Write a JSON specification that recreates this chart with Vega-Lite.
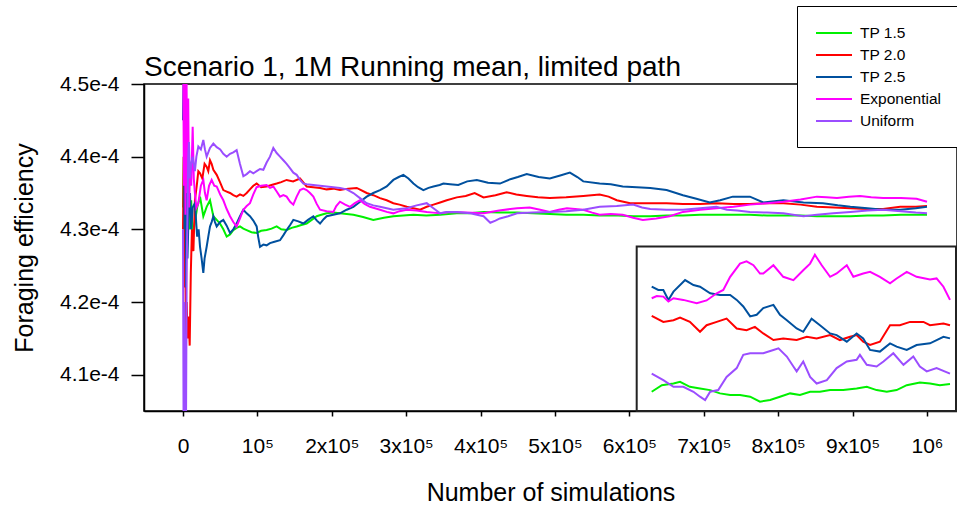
{
  "$schema": "https://vega.github.io/schema/vega-lite/v6.json",
  "width": 813,
  "height": 327,
  "autosize": {"type": "none"},
  "padding": {"left": 144, "top": 84, "right": 0, "bottom": 95},
  "background": "white",
  "config": {
    "font": "Liberation Sans",
    "view": {"stroke": "black", "strokeWidth": 1.5},
    "axis": {"domainColor": "black", "tickColor": "black", "labelColor": "black", "titleColor": "black", "grid": false, "domainWidth": 1.5, "tickWidth": 1.5, "titleFontWeight": "normal", "titleFont": "Liberation Sans", "labelFont": "Liberation Sans"}
  },
  "title": {"text": "Scenario 1, 1M Running mean, limited path", "anchor": "start", "frame": "group", "fontSize": 28, "fontWeight": "normal", "font": "Liberation Sans", "color": "black", "baseline": "alphabetic", "offset": 6, "dy": 104},
  "datasets": {
    "main": [
      {"series":"TP 1.5","n":0,"eff":4.33},{"series":"TP 1.5","n":1000,"eff":4.40},{"series":"TP 1.5","n":2000,"eff":4.27},{"series":"TP 1.5","n":3500,"eff":4.36},{"series":"TP 1.5","n":5000,"eff":4.29},{"series":"TP 1.5","n":7000,"eff":4.34},{"series":"TP 1.5","n":9400,"eff":4.30},{"series":"TP 1.5","n":11000,"eff":4.34},{"series":"TP 1.5","n":13000,"eff":4.29},{"series":"TP 1.5","n":16000,"eff":4.31},{"series":"TP 1.5","n":19000,"eff":4.33},{"series":"TP 1.5","n":22900,"eff":4.345},{"series":"TP 1.5","n":27300,"eff":4.318},{"series":"TP 1.5","n":31800,"eff":4.331},{"series":"TP 1.5","n":36300,"eff":4.34},{"series":"TP 1.5","n":40800,"eff":4.318},{"series":"TP 1.5","n":45300,"eff":4.313},{"series":"TP 1.5","n":49700,"eff":4.308},{"series":"TP 1.5","n":54200,"eff":4.3},{"series":"TP 1.5","n":58700,"eff":4.29},{"series":"TP 1.5","n":63200,"eff":4.293},{"series":"TP 1.5","n":67600,"eff":4.299},{"series":"TP 1.5","n":72100,"eff":4.302},{"series":"TP 1.5","n":76600,"eff":4.304},{"series":"TP 1.5","n":81100,"eff":4.301},{"series":"TP 1.5","n":85600,"eff":4.299},{"series":"TP 1.5","n":92000,"eff":4.296},{"series":"TP 1.5","n":99000,"eff":4.295},{"series":"TP 1.5","n":105000,"eff":4.298},{"series":"TP 1.5","n":112400,"eff":4.299},{"series":"TP 1.5","n":119000,"eff":4.301},{"series":"TP 1.5","n":125900,"eff":4.304},{"series":"TP 1.5","n":132000,"eff":4.3},{"series":"TP 1.5","n":139300,"eff":4.299},{"series":"TP 1.5","n":146000,"eff":4.302},{"series":"TP 1.5","n":152800,"eff":4.304},{"series":"TP 1.5","n":159000,"eff":4.306},{"series":"TP 1.5","n":166200,"eff":4.308},{"series":"TP 1.5","n":173000,"eff":4.313},{"series":"TP 1.5","n":179700,"eff":4.318},{"series":"TP 1.5","n":186000,"eff":4.32},{"series":"TP 1.5","n":193100,"eff":4.322},{"series":"TP 1.5","n":202000,"eff":4.323},{"series":"TP 1.5","n":211000,"eff":4.322},{"series":"TP 1.5","n":220000,"eff":4.321},{"series":"TP 1.5","n":229000,"eff":4.32},{"series":"TP 1.5","n":242000,"eff":4.317},{"series":"TP 1.5","n":255800,"eff":4.313},{"series":"TP 1.5","n":270000,"eff":4.316},{"series":"TP 1.5","n":282700,"eff":4.318},{"series":"TP 1.5","n":296000,"eff":4.319},{"series":"TP 1.5","n":309700,"eff":4.32},{"series":"TP 1.5","n":327000,"eff":4.319},{"series":"TP 1.5","n":345600,"eff":4.32},{"series":"TP 1.5","n":368000,"eff":4.322},{"series":"TP 1.5","n":385000,"eff":4.322},{"series":"TP 1.5","n":404000,"eff":4.324},{"series":"TP 1.5","n":425000,"eff":4.323},{"series":"TP 1.5","n":449000,"eff":4.323},{"series":"TP 1.5","n":470000,"eff":4.322},{"series":"TP 1.5","n":493000,"eff":4.321},{"series":"TP 1.5","n":515000,"eff":4.32},{"series":"TP 1.5","n":538000,"eff":4.32},{"series":"TP 1.5","n":560000,"eff":4.319},{"series":"TP 1.5","n":585000,"eff":4.319},{"series":"TP 1.5","n":605000,"eff":4.318},{"series":"TP 1.5","n":628000,"eff":4.318},{"series":"TP 1.5","n":650000,"eff":4.319},{"series":"TP 1.5","n":672000,"eff":4.319},{"series":"TP 1.5","n":695000,"eff":4.32},{"series":"TP 1.5","n":717000,"eff":4.32},{"series":"TP 1.5","n":740000,"eff":4.32},{"series":"TP 1.5","n":762000,"eff":4.32},{"series":"TP 1.5","n":785000,"eff":4.319},{"series":"TP 1.5","n":807000,"eff":4.319},{"series":"TP 1.5","n":830000,"eff":4.319},{"series":"TP 1.5","n":852000,"eff":4.318},{"series":"TP 1.5","n":875000,"eff":4.318},{"series":"TP 1.5","n":897000,"eff":4.318},{"series":"TP 1.5","n":920000,"eff":4.319},{"series":"TP 1.5","n":941000,"eff":4.319},{"series":"TP 1.5","n":965000,"eff":4.32},{"series":"TP 1.5","n":985000,"eff":4.32},{"series":"TP 1.5","n":1000000,"eff":4.32},

      {"series":"TP 2.0","n":0,"eff":4.30},{"series":"TP 2.0","n":1000,"eff":4.40},{"series":"TP 2.0","n":2000,"eff":4.22},{"series":"TP 2.0","n":3000,"eff":4.28},{"series":"TP 2.0","n":4000,"eff":4.14},{"series":"TP 2.0","n":5000,"eff":4.20},{"series":"TP 2.0","n":6000,"eff":4.15},{"series":"TP 2.0","n":7500,"eff":4.18},{"series":"TP 2.0","n":9000,"eff":4.14},{"series":"TP 2.0","n":10500,"eff":4.24},{"series":"TP 2.0","n":12000,"eff":4.30},{"series":"TP 2.0","n":14000,"eff":4.27},{"series":"TP 2.0","n":16000,"eff":4.34},{"series":"TP 2.0","n":18500,"eff":4.36},{"series":"TP 2.0","n":20600,"eff":4.38},{"series":"TP 2.0","n":22900,"eff":4.377},{"series":"TP 2.0","n":26000,"eff":4.37},{"series":"TP 2.0","n":29000,"eff":4.39},{"series":"TP 2.0","n":31800,"eff":4.386},{"series":"TP 2.0","n":34000,"eff":4.38},{"series":"TP 2.0","n":36300,"eff":4.395},{"series":"TP 2.0","n":38500,"eff":4.39},{"series":"TP 2.0","n":40800,"eff":4.382},{"series":"TP 2.0","n":45300,"eff":4.375},{"series":"TP 2.0","n":49700,"eff":4.365},{"series":"TP 2.0","n":54200,"eff":4.354},{"series":"TP 2.0","n":58700,"eff":4.352},{"series":"TP 2.0","n":63200,"eff":4.35},{"series":"TP 2.0","n":67600,"eff":4.347},{"series":"TP 2.0","n":72100,"eff":4.345},{"series":"TP 2.0","n":76600,"eff":4.348},{"series":"TP 2.0","n":81100,"eff":4.346},{"series":"TP 2.0","n":85600,"eff":4.35},{"series":"TP 2.0","n":90000,"eff":4.355},{"series":"TP 2.0","n":94500,"eff":4.36},{"series":"TP 2.0","n":99000,"eff":4.363},{"series":"TP 2.0","n":105000,"eff":4.358},{"series":"TP 2.0","n":112400,"eff":4.359},{"series":"TP 2.0","n":119000,"eff":4.361},{"series":"TP 2.0","n":125900,"eff":4.363},{"series":"TP 2.0","n":132000,"eff":4.365},{"series":"TP 2.0","n":139300,"eff":4.368},{"series":"TP 2.0","n":148000,"eff":4.366},{"series":"TP 2.0","n":157300,"eff":4.37},{"series":"TP 2.0","n":166200,"eff":4.359},{"series":"TP 2.0","n":175000,"eff":4.358},{"series":"TP 2.0","n":184200,"eff":4.357},{"series":"TP 2.0","n":193000,"eff":4.355},{"series":"TP 2.0","n":202000,"eff":4.356},{"series":"TP 2.0","n":211000,"eff":4.354},{"series":"TP 2.0","n":222000,"eff":4.356},{"series":"TP 2.0","n":233500,"eff":4.357},{"series":"TP 2.0","n":246900,"eff":4.35},{"series":"TP 2.0","n":255800,"eff":4.347},{"series":"TP 2.0","n":264800,"eff":4.343},{"series":"TP 2.0","n":273800,"eff":4.34},{"series":"TP 2.0","n":282700,"eff":4.336},{"series":"TP 2.0","n":291000,"eff":4.334},{"series":"TP 2.0","n":300700,"eff":4.331},{"series":"TP 2.0","n":309700,"eff":4.329},{"series":"TP 2.0","n":318700,"eff":4.327},{"series":"TP 2.0","n":327600,"eff":4.331},{"series":"TP 2.0","n":336600,"eff":4.334},{"series":"TP 2.0","n":345600,"eff":4.337},{"series":"TP 2.0","n":354500,"eff":4.34},{"series":"TP 2.0","n":368000,"eff":4.344},{"series":"TP 2.0","n":380000,"eff":4.346},{"series":"TP 2.0","n":392000,"eff":4.35},{"series":"TP 2.0","n":404000,"eff":4.344},{"series":"TP 2.0","n":420000,"eff":4.347},{"series":"TP 2.0","n":435000,"eff":4.351},{"series":"TP 2.0","n":448000,"eff":4.348},{"series":"TP 2.0","n":462000,"eff":4.346},{"series":"TP 2.0","n":477000,"eff":4.344},{"series":"TP 2.0","n":493000,"eff":4.343},{"series":"TP 2.0","n":515000,"eff":4.344},{"series":"TP 2.0","n":538000,"eff":4.346},{"series":"TP 2.0","n":560000,"eff":4.348},{"series":"TP 2.0","n":572000,"eff":4.345},{"series":"TP 2.0","n":583000,"eff":4.34},{"series":"TP 2.0","n":601000,"eff":4.336},{"series":"TP 2.0","n":628000,"eff":4.336},{"series":"TP 2.0","n":650000,"eff":4.336},{"series":"TP 2.0","n":672000,"eff":4.335},{"series":"TP 2.0","n":695000,"eff":4.335},{"series":"TP 2.0","n":717000,"eff":4.336},{"series":"TP 2.0","n":740000,"eff":4.335},{"series":"TP 2.0","n":762000,"eff":4.335},{"series":"TP 2.0","n":785000,"eff":4.336},{"series":"TP 2.0","n":807000,"eff":4.336},{"series":"TP 2.0","n":830000,"eff":4.334},{"series":"TP 2.0","n":852000,"eff":4.331},{"series":"TP 2.0","n":875000,"eff":4.33},{"series":"TP 2.0","n":897000,"eff":4.329},{"series":"TP 2.0","n":920000,"eff":4.328},{"series":"TP 2.0","n":941000,"eff":4.328},{"series":"TP 2.0","n":964000,"eff":4.331},{"series":"TP 2.0","n":985000,"eff":4.331},{"series":"TP 2.0","n":1000000,"eff":4.332},

      {"series":"TP 2.5","n":0,"eff":4.45},{"series":"TP 2.5","n":1000,"eff":4.52},{"series":"TP 2.5","n":2000,"eff":4.30},{"series":"TP 2.5","n":3000,"eff":4.50},{"series":"TP 2.5","n":4000,"eff":4.22},{"series":"TP 2.5","n":5000,"eff":4.35},{"series":"TP 2.5","n":6000,"eff":4.26},{"series":"TP 2.5","n":7500,"eff":4.32},{"series":"TP 2.5","n":9400,"eff":4.35},{"series":"TP 2.5","n":11000,"eff":4.30},{"series":"TP 2.5","n":13000,"eff":4.33},{"series":"TP 2.5","n":16000,"eff":4.336},{"series":"TP 2.5","n":19000,"eff":4.29},{"series":"TP 2.5","n":21000,"eff":4.30},{"series":"TP 2.5","n":22900,"eff":4.276},{"series":"TP 2.5","n":25000,"eff":4.26},{"series":"TP 2.5","n":27300,"eff":4.24},{"series":"TP 2.5","n":29000,"eff":4.26},{"series":"TP 2.5","n":31800,"eff":4.276},{"series":"TP 2.5","n":34000,"eff":4.29},{"series":"TP 2.5","n":36300,"eff":4.304},{"series":"TP 2.5","n":38500,"eff":4.31},{"series":"TP 2.5","n":40800,"eff":4.318},{"series":"TP 2.5","n":43000,"eff":4.31},{"series":"TP 2.5","n":45300,"eff":4.304},{"series":"TP 2.5","n":49700,"eff":4.31},{"series":"TP 2.5","n":54200,"eff":4.313},{"series":"TP 2.5","n":58700,"eff":4.305},{"series":"TP 2.5","n":63200,"eff":4.295},{"series":"TP 2.5","n":67600,"eff":4.3},{"series":"TP 2.5","n":72100,"eff":4.308},{"series":"TP 2.5","n":76600,"eff":4.318},{"series":"TP 2.5","n":81100,"eff":4.327},{"series":"TP 2.5","n":85600,"eff":4.322},{"series":"TP 2.5","n":90000,"eff":4.318},{"series":"TP 2.5","n":94500,"eff":4.312},{"series":"TP 2.5","n":99000,"eff":4.304},{"series":"TP 2.5","n":101000,"eff":4.29},{"series":"TP 2.5","n":103500,"eff":4.276},{"series":"TP 2.5","n":108000,"eff":4.279},{"series":"TP 2.5","n":112400,"eff":4.278},{"series":"TP 2.5","n":116900,"eff":4.281},{"series":"TP 2.5","n":123000,"eff":4.283},{"series":"TP 2.5","n":130400,"eff":4.285},{"series":"TP 2.5","n":135000,"eff":4.292},{"series":"TP 2.5","n":139300,"eff":4.299},{"series":"TP 2.5","n":144000,"eff":4.306},{"series":"TP 2.5","n":148300,"eff":4.313},{"series":"TP 2.5","n":155000,"eff":4.311},{"series":"TP 2.5","n":161800,"eff":4.308},{"series":"TP 2.5","n":168000,"eff":4.313},{"series":"TP 2.5","n":175200,"eff":4.318},{"series":"TP 2.5","n":180000,"eff":4.312},{"series":"TP 2.5","n":184200,"eff":4.308},{"series":"TP 2.5","n":189000,"eff":4.314},{"series":"TP 2.5","n":193100,"eff":4.318},{"series":"TP 2.5","n":202000,"eff":4.32},{"series":"TP 2.5","n":211000,"eff":4.322},{"series":"TP 2.5","n":220000,"eff":4.327},{"series":"TP 2.5","n":229000,"eff":4.331},{"series":"TP 2.5","n":238000,"eff":4.338},{"series":"TP 2.5","n":246900,"eff":4.345},{"series":"TP 2.5","n":255800,"eff":4.35},{"series":"TP 2.5","n":264800,"eff":4.354},{"series":"TP 2.5","n":273800,"eff":4.359},{"series":"TP 2.5","n":282700,"eff":4.368},{"series":"TP 2.5","n":290000,"eff":4.372},{"series":"TP 2.5","n":296200,"eff":4.375},{"series":"TP 2.5","n":303000,"eff":4.37},{"series":"TP 2.5","n":309700,"eff":4.363},{"series":"TP 2.5","n":316000,"eff":4.358},{"series":"TP 2.5","n":323100,"eff":4.354},{"series":"TP 2.5","n":330000,"eff":4.357},{"series":"TP 2.5","n":336600,"eff":4.359},{"series":"TP 2.5","n":345000,"eff":4.361},{"series":"TP 2.5","n":350000,"eff":4.363},{"series":"TP 2.5","n":359000,"eff":4.362},{"series":"TP 2.5","n":370000,"eff":4.361},{"series":"TP 2.5","n":382000,"eff":4.366},{"series":"TP 2.5","n":395000,"eff":4.368},{"series":"TP 2.5","n":410000,"eff":4.364},{"series":"TP 2.5","n":426000,"eff":4.363},{"series":"TP 2.5","n":440000,"eff":4.369},{"series":"TP 2.5","n":450000,"eff":4.372},{"series":"TP 2.5","n":462000,"eff":4.376},{"series":"TP 2.5","n":478000,"eff":4.372},{"series":"TP 2.5","n":493000,"eff":4.37},{"series":"TP 2.5","n":507000,"eff":4.374},{"series":"TP 2.5","n":520000,"eff":4.378},{"series":"TP 2.5","n":530000,"eff":4.372},{"series":"TP 2.5","n":538000,"eff":4.366},{"series":"TP 2.5","n":560000,"eff":4.363},{"series":"TP 2.5","n":575000,"eff":4.362},{"series":"TP 2.5","n":591000,"eff":4.359},{"series":"TP 2.5","n":610000,"eff":4.358},{"series":"TP 2.5","n":628000,"eff":4.357},{"series":"TP 2.5","n":650000,"eff":4.354},{"series":"TP 2.5","n":672000,"eff":4.347},{"series":"TP 2.5","n":690000,"eff":4.342},{"series":"TP 2.5","n":708000,"eff":4.337},{"series":"TP 2.5","n":722000,"eff":4.34},{"series":"TP 2.5","n":739000,"eff":4.345},{"series":"TP 2.5","n":762000,"eff":4.345},{"series":"TP 2.5","n":780000,"eff":4.337},{"series":"TP 2.5","n":807000,"eff":4.34},{"series":"TP 2.5","n":834000,"eff":4.337},{"series":"TP 2.5","n":860000,"eff":4.336},{"series":"TP 2.5","n":880000,"eff":4.333},{"series":"TP 2.5","n":897000,"eff":4.331},{"series":"TP 2.5","n":920000,"eff":4.329},{"series":"TP 2.5","n":941000,"eff":4.327},{"series":"TP 2.5","n":964000,"eff":4.327},{"series":"TP 2.5","n":985000,"eff":4.329},{"series":"TP 2.5","n":1000000,"eff":4.331},

      {"series":"Exponential","n":0,"eff":4.60},{"series":"Exponential","n":1200,"eff":4.36},{"series":"Exponential","n":2200,"eff":4.58},{"series":"Exponential","n":3300,"eff":4.32},{"series":"Exponential","n":4500,"eff":4.55},{"series":"Exponential","n":5800,"eff":4.35},{"series":"Exponential","n":7000,"eff":4.48},{"series":"Exponential","n":8200,"eff":4.33},{"series":"Exponential","n":9400,"eff":4.38},{"series":"Exponential","n":11000,"eff":4.36},{"series":"Exponential","n":13000,"eff":4.441},{"series":"Exponential","n":14500,"eff":4.37},{"series":"Exponential","n":16000,"eff":4.35},{"series":"Exponential","n":18000,"eff":4.33},{"series":"Exponential","n":20600,"eff":4.336},{"series":"Exponential","n":24000,"eff":4.36},{"series":"Exponential","n":27300,"eff":4.368},{"series":"Exponential","n":29500,"eff":4.35},{"series":"Exponential","n":31800,"eff":4.34},{"series":"Exponential","n":35000,"eff":4.36},{"series":"Exponential","n":38500,"eff":4.368},{"series":"Exponential","n":42000,"eff":4.36},{"series":"Exponential","n":45300,"eff":4.359},{"series":"Exponential","n":50000,"eff":4.348},{"series":"Exponential","n":54200,"eff":4.34},{"series":"Exponential","n":58700,"eff":4.328},{"series":"Exponential","n":63200,"eff":4.318},{"series":"Exponential","n":67600,"eff":4.31},{"series":"Exponential","n":72100,"eff":4.304},{"series":"Exponential","n":76600,"eff":4.315},{"series":"Exponential","n":81100,"eff":4.327},{"series":"Exponential","n":85600,"eff":4.332},{"series":"Exponential","n":90000,"eff":4.336},{"series":"Exponential","n":94500,"eff":4.348},{"series":"Exponential","n":99000,"eff":4.358},{"series":"Exponential","n":105000,"eff":4.36},{"series":"Exponential","n":112400,"eff":4.361},{"series":"Exponential","n":116900,"eff":4.357},{"series":"Exponential","n":121400,"eff":4.359},{"series":"Exponential","n":125900,"eff":4.352},{"series":"Exponential","n":130400,"eff":4.345},{"series":"Exponential","n":134900,"eff":4.347},{"series":"Exponential","n":139300,"eff":4.345},{"series":"Exponential","n":144000,"eff":4.338},{"series":"Exponential","n":148300,"eff":4.334},{"series":"Exponential","n":152800,"eff":4.345},{"series":"Exponential","n":157300,"eff":4.354},{"series":"Exponential","n":161800,"eff":4.356},{"series":"Exponential","n":166200,"eff":4.354},{"series":"Exponential","n":170700,"eff":4.35},{"series":"Exponential","n":175200,"eff":4.345},{"series":"Exponential","n":179700,"eff":4.335},{"series":"Exponential","n":184200,"eff":4.327},{"series":"Exponential","n":193100,"eff":4.325},{"series":"Exponential","n":202100,"eff":4.324},{"series":"Exponential","n":206000,"eff":4.332},{"series":"Exponential","n":211000,"eff":4.338},{"series":"Exponential","n":218000,"eff":4.334},{"series":"Exponential","n":224500,"eff":4.331},{"series":"Exponential","n":231000,"eff":4.336},{"series":"Exponential","n":237900,"eff":4.34},{"series":"Exponential","n":244000,"eff":4.335},{"series":"Exponential","n":251300,"eff":4.331},{"series":"Exponential","n":258000,"eff":4.329},{"series":"Exponential","n":264800,"eff":4.327},{"series":"Exponential","n":273800,"eff":4.324},{"series":"Exponential","n":282700,"eff":4.322},{"series":"Exponential","n":291000,"eff":4.325},{"series":"Exponential","n":300700,"eff":4.327},{"series":"Exponential","n":314000,"eff":4.326},{"series":"Exponential","n":327600,"eff":4.324},{"series":"Exponential","n":336000,"eff":4.323},{"series":"Exponential","n":345600,"eff":4.322},{"series":"Exponential","n":359000,"eff":4.324},{"series":"Exponential","n":380000,"eff":4.323},{"series":"Exponential","n":404000,"eff":4.322},{"series":"Exponential","n":425000,"eff":4.326},{"series":"Exponential","n":449000,"eff":4.329},{"series":"Exponential","n":466000,"eff":4.33},{"series":"Exponential","n":480000,"eff":4.327},{"series":"Exponential","n":493000,"eff":4.324},{"series":"Exponential","n":505000,"eff":4.327},{"series":"Exponential","n":516000,"eff":4.329},{"series":"Exponential","n":538000,"eff":4.327},{"series":"Exponential","n":550000,"eff":4.323},{"series":"Exponential","n":560000,"eff":4.32},{"series":"Exponential","n":575000,"eff":4.321},{"series":"Exponential","n":591000,"eff":4.32},{"series":"Exponential","n":605000,"eff":4.316},{"series":"Exponential","n":618000,"eff":4.313},{"series":"Exponential","n":636000,"eff":4.315},{"series":"Exponential","n":654000,"eff":4.318},{"series":"Exponential","n":672000,"eff":4.324},{"series":"Exponential","n":695000,"eff":4.327},{"series":"Exponential","n":717000,"eff":4.329},{"series":"Exponential","n":740000,"eff":4.331},{"series":"Exponential","n":762000,"eff":4.334},{"series":"Exponential","n":785000,"eff":4.336},{"series":"Exponential","n":807000,"eff":4.338},{"series":"Exponential","n":830000,"eff":4.341},{"series":"Exponential","n":852000,"eff":4.345},{"series":"Exponential","n":865000,"eff":4.344},{"series":"Exponential","n":879000,"eff":4.343},{"series":"Exponential","n":895000,"eff":4.345},{"series":"Exponential","n":910000,"eff":4.346},{"series":"Exponential","n":925000,"eff":4.344},{"series":"Exponential","n":941000,"eff":4.343},{"series":"Exponential","n":965000,"eff":4.343},{"series":"Exponential","n":986000,"eff":4.342},{"series":"Exponential","n":1000000,"eff":4.338},

      {"series":"Uniform","n":0,"eff":4.30},{"series":"Uniform","n":800,"eff":4.02},{"series":"Uniform","n":1600,"eff":4.20},{"series":"Uniform","n":2500,"eff":4.05},{"series":"Uniform","n":3300,"eff":4.15},{"series":"Uniform","n":4000,"eff":4.02},{"series":"Uniform","n":5000,"eff":4.25},{"series":"Uniform","n":6000,"eff":4.32},{"series":"Uniform","n":7000,"eff":4.40},{"series":"Uniform","n":8000,"eff":4.42},{"series":"Uniform","n":9400,"eff":4.37},{"series":"Uniform","n":11000,"eff":4.39},{"series":"Uniform","n":13000,"eff":4.40},{"series":"Uniform","n":16000,"eff":4.38},{"series":"Uniform","n":18000,"eff":4.40},{"series":"Uniform","n":20600,"eff":4.414},{"series":"Uniform","n":24000,"eff":4.41},{"series":"Uniform","n":27300,"eff":4.423},{"series":"Uniform","n":29500,"eff":4.41},{"series":"Uniform","n":31800,"eff":4.40},{"series":"Uniform","n":36300,"eff":4.412},{"series":"Uniform","n":40800,"eff":4.418},{"series":"Uniform","n":45300,"eff":4.413},{"series":"Uniform","n":50000,"eff":4.41},{"series":"Uniform","n":54200,"eff":4.404},{"series":"Uniform","n":58700,"eff":4.4},{"series":"Uniform","n":63200,"eff":4.404},{"series":"Uniform","n":67600,"eff":4.406},{"series":"Uniform","n":72100,"eff":4.409},{"series":"Uniform","n":76600,"eff":4.39},{"series":"Uniform","n":81100,"eff":4.373},{"series":"Uniform","n":85600,"eff":4.376},{"series":"Uniform","n":90000,"eff":4.38},{"series":"Uniform","n":94500,"eff":4.377},{"series":"Uniform","n":99000,"eff":4.38},{"series":"Uniform","n":103500,"eff":4.383},{"series":"Uniform","n":108000,"eff":4.382},{"series":"Uniform","n":112400,"eff":4.392},{"series":"Uniform","n":116900,"eff":4.4},{"series":"Uniform","n":121400,"eff":4.412},{"series":"Uniform","n":125900,"eff":4.405},{"series":"Uniform","n":130400,"eff":4.4},{"series":"Uniform","n":134900,"eff":4.395},{"series":"Uniform","n":139300,"eff":4.39},{"series":"Uniform","n":144000,"eff":4.384},{"series":"Uniform","n":148300,"eff":4.378},{"series":"Uniform","n":152800,"eff":4.375},{"series":"Uniform","n":157300,"eff":4.368},{"series":"Uniform","n":161800,"eff":4.363},{"series":"Uniform","n":166200,"eff":4.362},{"series":"Uniform","n":175200,"eff":4.361},{"series":"Uniform","n":184200,"eff":4.36},{"series":"Uniform","n":193100,"eff":4.359},{"series":"Uniform","n":202100,"eff":4.358},{"series":"Uniform","n":211000,"eff":4.357},{"series":"Uniform","n":220000,"eff":4.355},{"series":"Uniform","n":229000,"eff":4.35},{"series":"Uniform","n":237900,"eff":4.343},{"series":"Uniform","n":246900,"eff":4.336},{"series":"Uniform","n":255800,"eff":4.333},{"series":"Uniform","n":264800,"eff":4.331},{"series":"Uniform","n":273800,"eff":4.329},{"series":"Uniform","n":282700,"eff":4.327},{"series":"Uniform","n":291000,"eff":4.328},{"series":"Uniform","n":300700,"eff":4.329},{"series":"Uniform","n":314000,"eff":4.333},{"series":"Uniform","n":327600,"eff":4.336},{"series":"Uniform","n":336600,"eff":4.329},{"series":"Uniform","n":345600,"eff":4.322},{"series":"Uniform","n":354000,"eff":4.324},{"series":"Uniform","n":368000,"eff":4.324},{"series":"Uniform","n":386000,"eff":4.322},{"series":"Uniform","n":404000,"eff":4.318},{"series":"Uniform","n":413000,"eff":4.309},{"series":"Uniform","n":420000,"eff":4.312},{"series":"Uniform","n":426000,"eff":4.315},{"series":"Uniform","n":437000,"eff":4.318},{"series":"Uniform","n":449000,"eff":4.322},{"series":"Uniform","n":470000,"eff":4.323},{"series":"Uniform","n":493000,"eff":4.324},{"series":"Uniform","n":515000,"eff":4.325},{"series":"Uniform","n":538000,"eff":4.327},{"series":"Uniform","n":560000,"eff":4.331},{"series":"Uniform","n":583000,"eff":4.332},{"series":"Uniform","n":605000,"eff":4.334},{"series":"Uniform","n":617000,"eff":4.33},{"series":"Uniform","n":628000,"eff":4.328},{"series":"Uniform","n":650000,"eff":4.327},{"series":"Uniform","n":672000,"eff":4.327},{"series":"Uniform","n":695000,"eff":4.329},{"series":"Uniform","n":717000,"eff":4.331},{"series":"Uniform","n":731000,"eff":4.327},{"series":"Uniform","n":745000,"eff":4.326},{"series":"Uniform","n":762000,"eff":4.324},{"series":"Uniform","n":785000,"eff":4.323},{"series":"Uniform","n":807000,"eff":4.322},{"series":"Uniform","n":820000,"eff":4.32},{"series":"Uniform","n":834000,"eff":4.318},{"series":"Uniform","n":852000,"eff":4.32},{"series":"Uniform","n":874000,"eff":4.322},{"series":"Uniform","n":897000,"eff":4.324},{"series":"Uniform","n":920000,"eff":4.326},{"series":"Uniform","n":941000,"eff":4.327},{"series":"Uniform","n":965000,"eff":4.325},{"series":"Uniform","n":985000,"eff":4.323},{"series":"Uniform","n":1000000,"eff":4.322}
    ],
    "inset": [
      {"series":"TP 1.5","n":900000,"eff":4.3235},{"series":"TP 1.5","n":903400,"eff":4.3247},{"series":"TP 1.5","n":907300,"eff":4.325},{"series":"TP 1.5","n":909500,"eff":4.3253},{"series":"TP 1.5","n":912800,"eff":4.3244},{"series":"TP 1.5","n":916200,"eff":4.3241},{"series":"TP 1.5","n":919600,"eff":4.3238},{"series":"TP 1.5","n":922900,"eff":4.3232},{"series":"TP 1.5","n":926300,"eff":4.3229},{"series":"TP 1.5","n":929600,"eff":4.3229},{"series":"TP 1.5","n":933000,"eff":4.3226},{"series":"TP 1.5","n":936300,"eff":4.3217},{"series":"TP 1.5","n":939700,"eff":4.322},{"series":"TP 1.5","n":943000,"eff":4.3226},{"series":"TP 1.5","n":946400,"eff":4.3232},{"series":"TP 1.5","n":949700,"eff":4.3229},{"series":"TP 1.5","n":953100,"eff":4.3235},{"series":"TP 1.5","n":956400,"eff":4.3235},{"series":"TP 1.5","n":959800,"eff":4.3238},{"series":"TP 1.5","n":964200,"eff":4.3238},{"series":"TP 1.5","n":968700,"eff":4.3241},{"series":"TP 1.5","n":972100,"eff":4.3244},{"series":"TP 1.5","n":975400,"eff":4.3238},{"series":"TP 1.5","n":978800,"eff":4.3235},{"series":"TP 1.5","n":982100,"eff":4.3238},{"series":"TP 1.5","n":985500,"eff":4.3247},{"series":"TP 1.5","n":989900,"eff":4.3252},{"series":"TP 1.5","n":993300,"eff":4.325},{"series":"TP 1.5","n":996600,"eff":4.3247},{"series":"TP 1.5","n":1000000,"eff":4.3249},

      {"series":"TP 2.0","n":900000,"eff":4.3373},{"series":"TP 2.0","n":903900,"eff":4.3362},{"series":"TP 2.0","n":907300,"eff":4.3365},{"series":"TP 2.0","n":909500,"eff":4.337},{"series":"TP 2.0","n":912800,"eff":4.3362},{"series":"TP 2.0","n":916200,"eff":4.3344},{"series":"TP 2.0","n":918400,"eff":4.3356},{"series":"TP 2.0","n":921800,"eff":4.3362},{"series":"TP 2.0","n":925100,"eff":4.3368},{"series":"TP 2.0","n":928500,"eff":4.335},{"series":"TP 2.0","n":931800,"eff":4.3347},{"series":"TP 2.0","n":934600,"eff":4.3353},{"series":"TP 2.0","n":937400,"eff":4.3341},{"series":"TP 2.0","n":940800,"eff":4.3329},{"series":"TP 2.0","n":944100,"eff":4.3332},{"series":"TP 2.0","n":948600,"eff":4.3329},{"series":"TP 2.0","n":952000,"eff":4.3335},{"series":"TP 2.0","n":955300,"eff":4.3332},{"series":"TP 2.0","n":959800,"eff":4.3338},{"series":"TP 2.0","n":963100,"eff":4.3329},{"series":"TP 2.0","n":966500,"eff":4.3335},{"series":"TP 2.0","n":968700,"eff":4.3338},{"series":"TP 2.0","n":970900,"eff":4.3326},{"series":"TP 2.0","n":973200,"eff":4.332},{"series":"TP 2.0","n":976500,"eff":4.3326},{"series":"TP 2.0","n":979900,"eff":4.3356},{"series":"TP 2.0","n":983200,"eff":4.3356},{"series":"TP 2.0","n":986600,"eff":4.3362},{"series":"TP 2.0","n":991100,"eff":4.3362},{"series":"TP 2.0","n":993300,"eff":4.3356},{"series":"TP 2.0","n":997800,"eff":4.3359},{"series":"TP 2.0","n":1000000,"eff":4.3356},

      {"series":"TP 2.5","n":900000,"eff":4.3426},{"series":"TP 2.5","n":902200,"eff":4.342},{"series":"TP 2.5","n":903900,"eff":4.342},{"series":"TP 2.5","n":905600,"eff":4.3402},{"series":"TP 2.5","n":907300,"eff":4.3417},{"series":"TP 2.5","n":911200,"eff":4.3438},{"series":"TP 2.5","n":914000,"eff":4.3429},{"series":"TP 2.5","n":916200,"eff":4.3426},{"series":"TP 2.5","n":919600,"eff":4.3414},{"series":"TP 2.5","n":922900,"eff":4.3411},{"series":"TP 2.5","n":926300,"eff":4.3411},{"series":"TP 2.5","n":928500,"eff":4.3402},{"series":"TP 2.5","n":930700,"eff":4.339},{"series":"TP 2.5","n":933000,"eff":4.3372},{"series":"TP 2.5","n":935200,"eff":4.3375},{"series":"TP 2.5","n":937400,"eff":4.3387},{"series":"TP 2.5","n":940800,"eff":4.3393},{"series":"TP 2.5","n":943000,"eff":4.3375},{"series":"TP 2.5","n":945300,"eff":4.3365},{"series":"TP 2.5","n":948600,"eff":4.335},{"series":"TP 2.5","n":950800,"eff":4.3344},{"series":"TP 2.5","n":953600,"eff":4.3368},{"series":"TP 2.5","n":956400,"eff":4.3356},{"series":"TP 2.5","n":959800,"eff":4.3341},{"series":"TP 2.5","n":962000,"eff":4.3338},{"series":"TP 2.5","n":965400,"eff":4.3326},{"series":"TP 2.5","n":968700,"eff":4.3341},{"series":"TP 2.5","n":970900,"eff":4.3332},{"series":"TP 2.5","n":973200,"eff":4.3311},{"series":"TP 2.5","n":976500,"eff":4.3308},{"series":"TP 2.5","n":979900,"eff":4.3323},{"series":"TP 2.5","n":982100,"eff":4.3317},{"series":"TP 2.5","n":985500,"eff":4.3311},{"series":"TP 2.5","n":988800,"eff":4.332},{"series":"TP 2.5","n":993300,"eff":4.3323},{"series":"TP 2.5","n":997800,"eff":4.3335},{"series":"TP 2.5","n":1000000,"eff":4.3332},

      {"series":"Exponential","n":900000,"eff":4.3405},{"series":"Exponential","n":901700,"eff":4.3409},{"series":"Exponential","n":903900,"eff":4.3408},{"series":"Exponential","n":905600,"eff":4.3399},{"series":"Exponential","n":907300,"eff":4.3405},{"series":"Exponential","n":910600,"eff":4.3402},{"series":"Exponential","n":915100,"eff":4.3396},{"series":"Exponential","n":918400,"eff":4.3401},{"series":"Exponential","n":921800,"eff":4.3414},{"series":"Exponential","n":924000,"eff":4.342},{"series":"Exponential","n":926300,"eff":4.3444},{"series":"Exponential","n":929600,"eff":4.3468},{"series":"Exponential","n":931800,"eff":4.3472},{"series":"Exponential","n":934100,"eff":4.3465},{"series":"Exponential","n":936300,"eff":4.345},{"series":"Exponential","n":937400,"eff":4.345},{"series":"Exponential","n":940800,"eff":4.3465},{"series":"Exponential","n":944100,"eff":4.3444},{"series":"Exponential","n":947500,"eff":4.3438},{"series":"Exponential","n":950800,"eff":4.3456},{"series":"Exponential","n":953100,"eff":4.3468},{"series":"Exponential","n":954700,"eff":4.3484},{"series":"Exponential","n":957000,"eff":4.3465},{"series":"Exponential","n":959800,"eff":4.3444},{"series":"Exponential","n":962000,"eff":4.345},{"series":"Exponential","n":965400,"eff":4.3465},{"series":"Exponential","n":967600,"eff":4.3444},{"series":"Exponential","n":970900,"eff":4.345},{"series":"Exponential","n":973200,"eff":4.3453},{"series":"Exponential","n":976500,"eff":4.3444},{"series":"Exponential","n":979900,"eff":4.3432},{"series":"Exponential","n":982100,"eff":4.3441},{"series":"Exponential","n":985500,"eff":4.3453},{"series":"Exponential","n":988800,"eff":4.3444},{"series":"Exponential","n":993300,"eff":4.3439},{"series":"Exponential","n":995500,"eff":4.3441},{"series":"Exponential","n":997800,"eff":4.3426},{"series":"Exponential","n":1000000,"eff":4.3402},

      {"series":"Uniform","n":900000,"eff":4.3268},{"series":"Uniform","n":903900,"eff":4.3256},{"series":"Uniform","n":907300,"eff":4.3244},{"series":"Uniform","n":910600,"eff":4.3244},{"series":"Uniform","n":914000,"eff":4.3235},{"series":"Uniform","n":916200,"eff":4.3226},{"series":"Uniform","n":917900,"eff":4.322},{"series":"Uniform","n":919600,"eff":4.3235},{"series":"Uniform","n":922300,"eff":4.3238},{"series":"Uniform","n":925100,"eff":4.3262},{"series":"Uniform","n":928500,"eff":4.3278},{"series":"Uniform","n":930700,"eff":4.3302},{"series":"Uniform","n":933000,"eff":4.3305},{"series":"Uniform","n":937400,"eff":4.3305},{"series":"Uniform","n":940800,"eff":4.3311},{"series":"Uniform","n":942500,"eff":4.3314},{"series":"Uniform","n":945300,"eff":4.3299},{"series":"Uniform","n":947500,"eff":4.3281},{"series":"Uniform","n":948600,"eff":4.3272},{"series":"Uniform","n":950800,"eff":4.329},{"series":"Uniform","n":953100,"eff":4.3262},{"series":"Uniform","n":955300,"eff":4.325},{"series":"Uniform","n":958700,"eff":4.3256},{"series":"Uniform","n":962000,"eff":4.3278},{"series":"Uniform","n":965400,"eff":4.329},{"series":"Uniform","n":968700,"eff":4.3293},{"series":"Uniform","n":969800,"eff":4.3302},{"series":"Uniform","n":972100,"eff":4.3284},{"series":"Uniform","n":975400,"eff":4.3281},{"series":"Uniform","n":977700,"eff":4.329},{"series":"Uniform","n":981000,"eff":4.3305},{"series":"Uniform","n":984400,"eff":4.3284},{"series":"Uniform","n":987700,"eff":4.3299},{"series":"Uniform","n":989900,"eff":4.3281},{"series":"Uniform","n":992200,"eff":4.3272},{"series":"Uniform","n":995500,"eff":4.3278},{"series":"Uniform","n":1000000,"eff":4.3268}
    ]
  },
  "layer": [
    {
      "data": {"name": "main"},
      "mark": {"type": "line", "strokeWidth": 2, "clip": true},
      "encoding": {
        "x": {"field": "n", "type": "quantitative", "scale": {"domain": [-52419, 1040323], "nice": false, "zero": false},
          "axis": {"title": "Number of simulations", "values": [0,100000,200000,300000,400000,500000,600000,700000,800000,900000,1000000],
            "labelExpr": "datum.value == 0 ? '0' : datum.value == 100000 ? '10⁵' : datum.value == 1000000 ? '10⁶' : round(datum.value/100000) + 'x10⁵'",
            "labelFontSize": 21, "labelPadding": 19, "tickSize": 5, "titleFontSize": 25, "titlePadding": 24, "labelFlush": false, "labelOverlap": false}},
        "y": {"field": "eff", "type": "quantitative", "scale": {"domain": [4.05, 4.5], "nice": false, "zero": false},
          "axis": {"title": "Foraging efficiency", "values": [4.1,4.2,4.3,4.4,4.5], "labelExpr": "format(datum.value, '.1f') + 'e-4'",
            "labelFontSize": 21, "labelPadding": 12, "tickSize": 13, "titleFontSize": 25, "titlePadding": 22, "labelFlush": false, "labelOverlap": false}},
        "color": {"field": "series", "type": "nominal",
          "scale": {"domain": ["TP 1.5","TP 2.0","TP 2.5","Exponential","Uniform"], "range": ["#00f000","#ff0000","#00509e","#ff00ff","#9b4dff"]},
          "legend": {"title": null, "orient": "none", "legendX": 653, "legendY": -78, "labelFontSize": 15.5, "labelFont": "Liberation Sans", "labelColor": "black",
            "symbolType": "M-2,0L2,0", "symbolSize": 324, "symbolStrokeWidth": 2, "padding": 17, "rowPadding": 3, "symbolOffset": 10, "labelOffset": 16,
            "strokeColor": "black", "fillColor": "white", "cornerRadius": 0}}
      }
    },
    {
      "layer": [
        {
          "data": {"values": [{}]},
          "mark": {"type": "rect", "fill": "white", "stroke": "#222222", "strokeWidth": 2},
          "encoding": {
            "x": {"datum": 894971, "type": "quantitative", "scale": {"domain": [729802, 1002347], "nice": false, "zero": false}, "axis": null},
            "x2": {"datum": 1002011},
            "y": {"datum": 4.34991, "type": "quantitative", "scale": {"domain": [4.32, 4.379455], "nice": false, "zero": false}, "axis": null},
            "y2": {"datum": 4.32}
          }
        },
        {
          "data": {"name": "inset"},
          "mark": {"type": "line", "strokeWidth": 2},
          "encoding": {
            "x": {"field": "n", "type": "quantitative", "scale": {"domain": [729802, 1002347], "nice": false, "zero": false}, "axis": null},
            "y": {"field": "eff", "type": "quantitative", "scale": {"domain": [4.32, 4.379455], "nice": false, "zero": false}, "axis": null},
            "color": {"field": "series", "type": "nominal", "legend": null}
          }
        }
      ]
    }
  ],
  "resolve": {"scale": {"x": "independent", "y": "independent"}}
}
